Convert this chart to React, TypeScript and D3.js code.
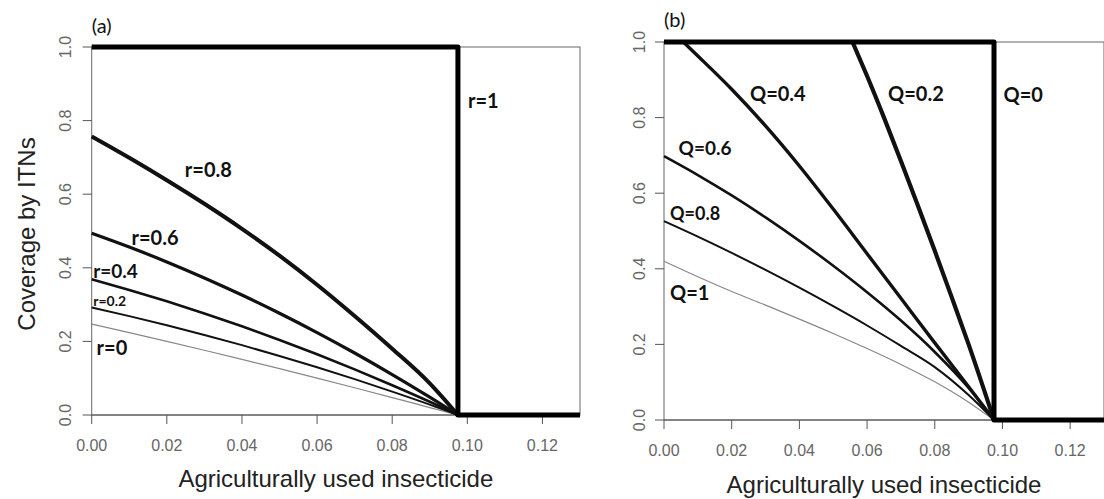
import React from 'react';
import * as d3 from 'd3';

// ---- data ----
const xTicks = [0, 0.02, 0.04, 0.06, 0.08, 0.1, 0.12];
const yTicks = [0, 0.2, 0.4, 0.6, 0.8, 1.0];
const threshold = 0.0975;

// panel (a): effect of r
const xGridA = [0, 0.01, 0.02, 0.03, 0.04, 0.05, 0.06, 0.07, 0.08, 0.09, 0.0975];
const covR08 = [0.757, 0.699, 0.638, 0.574, 0.506, 0.433, 0.354, 0.269, 0.18, 0.086, 0];
const covR06 = [0.494, 0.4565, 0.416, 0.3725, 0.326, 0.2765, 0.224, 0.1685, 0.11, 0.0485, 0];
const covR04 = [0.369, 0.34, 0.309, 0.276, 0.241, 0.204, 0.165, 0.124, 0.081, 0.036, 0];
const covR02 = [0.292, 0.2687, 0.2439, 0.2176, 0.1898, 0.1605, 0.1297, 0.0974, 0.0636, 0.0283, 0];
const covR0 = [0.247, 0.2238, 0.2001, 0.1759, 0.1512, 0.126, 0.1003, 0.0741, 0.0474, 0.0202, 0];

// step curve (r=1 / Q=0)
const stepX = [0, threshold, threshold, 0.13];
const stepY = [1, 1, 0, 0];

// panel (b): effect of Q
const xGridB = [0, 0.01, 0.02, 0.03, 0.04, 0.05, 0.06, 0.07, 0.08, 0.09, 0.0975];
const covQ06 = [0.698, 0.648, 0.594, 0.536, 0.474, 0.408, 0.338, 0.263, 0.18, 0.085, 0];
const covQ08 = [0.526, 0.485, 0.442, 0.397, 0.35, 0.301, 0.25, 0.196, 0.14, 0.066, 0];
const covQ1 = [0.42, 0.379, 0.34, 0.304, 0.267, 0.229, 0.189, 0.147, 0.101, 0.047, 0];
const xQ04 = [0.0057, 0.01, 0.02, 0.03, 0.04, 0.05, 0.06, 0.07, 0.08, 0.09, 0.0975];
const covQ04 = [1, 0.963, 0.875, 0.778, 0.672, 0.558, 0.44, 0.322, 0.204, 0.088, 0];
const xQ02 = [0.0557, 0.06, 0.065, 0.07, 0.075, 0.08, 0.085, 0.09, 0.0975];
const covQ02 = [1, 0.91, 0.8, 0.685, 0.5675, 0.4475, 0.325, 0.2, 0];

interface Series {
  xs: number[];
  ys: number[];
  width: number;
  color: string;
  step?: boolean;
}

interface Label {
  text: string;
  x: number; // data coords
  y: number;
  size: number;
}

interface PanelProps {
  left: number;
  right: number;
  top: number;
  bottom: number;
  tag: string;
  tagY: number;
  series: Series[];
  labels: Label[];
  xTitleY: number;
  tickLabelGap: number;
  yTickGap: number;
}

const TITLE_FONT = '"Liberation Sans", Arial, sans-serif';
const LABEL_FONT = 'Lato, "Open Sans", sans-serif';

const Panel: React.FC<PanelProps> = ({
  left, right, top, bottom, tag, tagY, series, labels, xTitleY, tickLabelGap, yTickGap
}) => {
  const x = d3.scaleLinear().domain([0, 0.13]).range([left, right]);
  const y = d3.scaleLinear().domain([0, 1]).range([bottom, top]);

  const smooth = d3.line<[number, number]>()
    .x(d => x(d[0]))
    .y(d => y(d[1]))
    .curve(d3.curveMonotoneX);
  const straight = d3.line<[number, number]>()
    .x(d => x(d[0]))
    .y(d => y(d[1]));

  return (
    <g>
      {/* box */}
      <rect x={left} y={top} width={right - left} height={bottom - top}
        fill="none" stroke="#666" strokeWidth={1} />

      {/* x axis ticks */}
      {xTicks.map(t => (
        <g key={`x${t}`}>
          <line x1={x(t)} x2={x(t)} y1={bottom} y2={bottom + 9} stroke="#555" />
          <text x={x(t)} y={bottom + tickLabelGap} textAnchor="middle"
            fontFamily={TITLE_FONT} fontSize={16} fill="#666">{t.toFixed(2)}</text>
        </g>
      ))}
      <line x1={x(0)} x2={x(0.12)} y1={bottom} y2={bottom} stroke="#555" />

      {/* y axis ticks */}
      {yTicks.map(t => (
        <g key={`y${t}`}>
          <line x1={left - 9} x2={left} y1={y(t)} y2={y(t)} stroke="#555" />
          <text transform={`translate(${left - yTickGap},${y(t)}) rotate(-90)`}
            textAnchor="middle" fontFamily={TITLE_FONT} fontSize={16} fill="#666">{t.toFixed(1)}</text>
        </g>
      ))}

      {/* curves */}
      {series.map((s, i) => {
        const pts = s.xs.map((v, j) => [v, s.ys[j]] as [number, number]);
        return (
          <path key={i} d={(s.step ? straight : smooth)(pts) || ''}
            fill="none" stroke={s.color} strokeWidth={s.width}
            strokeLinejoin="round" strokeLinecap="butt" />
        );
      })}

      {/* curve labels */}
      {labels.map(l => (
        <text key={l.text} x={x(l.x)} y={y(l.y)} fontFamily={LABEL_FONT}
          fontWeight="bold" fontSize={l.size} fill="#111">{l.text}</text>
      ))}

      <text x={left} y={tagY} fontFamily={LABEL_FONT} fontSize={20} fill="#111">{tag}</text>

      <text x={(left + right) / 2} y={xTitleY} textAnchor="middle"
        fontFamily={TITLE_FONT} fontSize={24} fill="#222">Agriculturally used insecticide</text>
    </g>
  );
};

const App: React.FC = () => {
  const seriesA: Series[] = [
    { xs: xGridA, ys: covR0, width: 1.2, color: '#888' },
    { xs: xGridA, ys: covR02, width: 2, color: '#111' },
    { xs: xGridA, ys: covR04, width: 2.6, color: '#111' },
    { xs: xGridA, ys: covR06, width: 3.2, color: '#111' },
    { xs: xGridA, ys: covR08, width: 4, color: '#111' },
    { xs: stepX, ys: stepY, width: 5, color: '#000', step: true },
  ];
  const labelsA: Label[] = [
    { text: 'r=1', x: 0.1002, y: 0.835, size: 20 },
    { text: 'r=0.8', x: 0.0248, y: 0.648, size: 20 },
    { text: 'r=0.6', x: 0.0106, y: 0.463, size: 20 },
    { text: 'r=0.4', x: 0.0004, y: 0.373, size: 19 },
    { text: 'r=0.2', x: 0.0004, y: 0.295, size: 14 },
    { text: 'r=0', x: 0.0013, y: 0.163, size: 20 },
  ];

  const seriesB: Series[] = [
    { xs: xGridB, ys: covQ1, width: 1.2, color: '#888' },
    { xs: xGridB, ys: covQ08, width: 2, color: '#111' },
    { xs: xGridB, ys: covQ06, width: 2.6, color: '#111' },
    { xs: xQ04, ys: covQ04, width: 3.4, color: '#111' },
    { xs: xQ02, ys: covQ02, width: 4.2, color: '#111' },
    { xs: stepX, ys: stepY, width: 5, color: '#000', step: true },
  ];
  const labelsB: Label[] = [
    { text: 'Q=0', x: 0.1003, y: 0.84, size: 20 },
    { text: 'Q=0.2', x: 0.0662, y: 0.845, size: 20 },
    { text: 'Q=0.4', x: 0.0254, y: 0.845, size: 20 },
    { text: 'Q=0.6', x: 0.0043, y: 0.7, size: 19 },
    { text: 'Q=0.8', x: 0.0018, y: 0.53, size: 18 },
    { text: 'Q=1', x: 0.0018, y: 0.318, size: 20 },
  ];

  return (
    <svg width={1104} height={499} style={{ position: 'absolute', left: 0, top: 0, background: '#fff' }}>
      <rect width={1104} height={499} fill="#fff" />
      <text transform="translate(35,234) rotate(-90)" textAnchor="middle"
        fontFamily={TITLE_FONT} fontSize={24} fill="#222">Coverage by ITNs</text>
      <Panel left={91.7} right={580} top={47} bottom={415} tag="(a)" tagY={33}
        series={seriesA} labels={labelsA} xTitleY={487} tickLabelGap={36} yTickGap={21} />
      <Panel left={664} right={1104} top={42} bottom={420} tag="(b)" tagY={27}
        series={seriesB} labels={labelsB} xTitleY={493} tickLabelGap={36} yTickGap={19} />
    </svg>
  );
};

export default App;
